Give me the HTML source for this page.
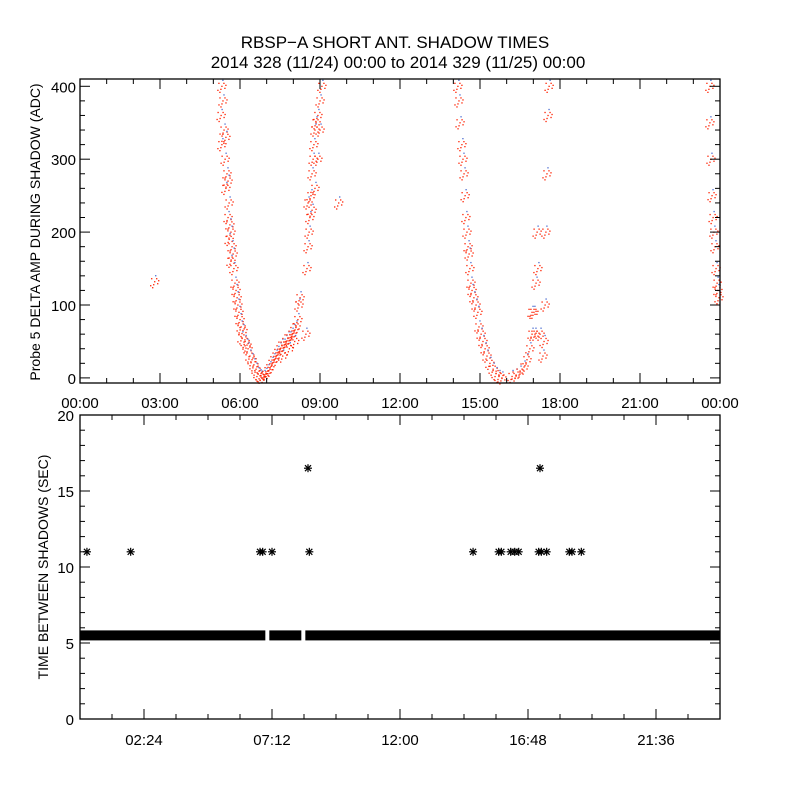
<!DOCTYPE html>
<html><head><meta charset="utf-8"><style>
html,body{margin:0;padding:0;background:#fff;}
svg{display:block;font-family:"Liberation Sans","DejaVu Sans",sans-serif;}
</style></head><body>
<svg id="c" width="800" height="800" viewBox="0 0 800 800">
<rect width="800" height="800" fill="#fff"/>
<text x="395" y="48" font-size="17" text-anchor="middle">RBSP−A SHORT ANT. SHADOW TIMES</text>
<text x="398" y="68" font-size="17" text-anchor="middle">2014 328 (11/24) 00:00 to 2014 329 (11/25) 00:00</text>
<text transform="translate(40,232) rotate(-90)" font-size="14" text-anchor="middle">Probe 5 DELTA AMP DURING SHADOW (ADC)</text>
<text transform="translate(48,567) rotate(-90)" font-size="14" text-anchor="middle">TIME BETWEEN SHADOWS (SEC)</text>
<g id="top"></g><g id="bot"></g>
</svg>
<script>
const NS="http://www.w3.org/2000/svg";
// ---- top panel data: [hour, ADC] ----
const ampHours=[5.32,5.36,5.29,5.40,5.32,5.47,5.44,5.51,5.47,5.55,5.59,5.55,5.62,5.66,5.59,5.70,5.74,5.66,5.77,5.81,5.85,5.89,5.92,5.96,6.00,6.04,6.11,6.07,6.19,6.26,6.30,6.37,6.45,6.52,6.60,6.67,6.75,6.79,
6.90,6.97,7.05,7.12,7.20,7.27,7.35,7.42,7.50,7.57,7.65,7.72,7.80,7.87,7.95,8.02,8.10,8.17,8.21,8.25,7.60,7.85,8.05,
8.47,8.51,8.55,8.59,8.62,8.66,8.70,8.74,8.77,8.81,8.85,8.92,9.00,9.07,8.55,8.70,8.81,8.92,9.00,9.70,2.80,
14.17,14.21,14.25,14.32,14.36,14.40,14.44,14.47,14.51,14.55,14.59,14.62,14.66,14.70,14.77,14.85,14.92,14.96,15.04,15.11,15.19,15.26,15.37,15.49,15.60,15.71,15.82,
16.20,16.35,16.50,16.65,16.76,16.87,16.95,17.02,17.10,17.14,17.17,17.25,17.36,17.40,17.44,17.47,17.51,17.55,17.59,16.95,17.06,
23.62,23.66,23.70,23.74,23.77,23.81,23.85,23.89,23.92,23.96,23.62];
const ampValues=[400,380,360,340,320,330,300,280,260,270,240,220,210,200,190,180,170,160,150,130,120,110,100,90,80,70,65,55,50,45,40,30,25,18,12,6,3,1,
2,5,10,14,20,25,30,35,40,45,45,50,55,55,60,65,70,80,100,110,30,40,50,
60,150,180,200,220,250,280,300,320,340,350,360,380,400,240,230,260,300,340,240,132,
400,380,350,320,300,280,250,220,200,180,170,150,130,120,110,100,90,70,60,50,40,30,20,12,6,2,0,
2,4,8,15,25,40,60,90,130,200,150,60,30,50,100,200,280,360,400,90,60,
350,300,250,220,200,180,150,130,120,110,400];
const topYTicks=[0,100,200,300,400];
const topXTickLabels=["00:00","03:00","06:00","09:00","12:00","15:00","18:00","21:00","00:00"];
// ---- bottom panel data ----
const bandSegments=[[0,6.95],[7.1,8.3],[8.45,24]];
const bandValue=5.5;
const outlierHours=[0.26,1.9,6.75,6.85,7.2,8.55,8.6,14.74,15.7,15.8,16.15,16.3,16.45,17.2,17.3,17.25,17.5,18.35,18.45,18.8];
const outlierValues=[11,11,11,11,11,16.5,11,11,11,11,11,11,11,11,11,16.5,11,11,11,11];
const botYTicks=[0,5,10,15,20];
const botXTickHours=[2.4,7.2,12,16.8,21.6];
const botXTickLabels=["02:24","07:12","12:00","16:48","21:36"];

function el(t,a,p){const e=document.createElementNS(NS,t);for(const k in a)e.setAttribute(k,a[k]);p.appendChild(e);return e;}
const L=80,R=720;
const tx=h=>L+(R-L)*h/24;
// top panel
const tT=79,tB=383,tMin=-7,tMax=410;
const ty=v=>tB-(v-tMin)/(tMax-tMin)*(tB-tT);
const gt=document.getElementById('top');
const jit=[[0,0],[3,2],[-3,-3],[4,-1],[-4,4],[1,-6],[-2,6],[2,-3],[-1,3]];
ampHours.forEach((h,i)=>{
  jit.forEach((j,k)=>{
    const r=el('rect',{x:tx(h)+j[0]-0.6,y:ty(ampValues[i])+j[1]-0.6,width:1.3,height:1.3,fill:k==5?'#4a6bd0':'#ff2000'},gt);
    
    
  });
});
let f=el('rect',{x:L,y:tT,width:R-L,height:tB-tT,fill:'none',stroke:'#000','stroke-width':1.3},gt);

for(let v=0;v<=400;v+=20){const y=ty(v);const len=v%100==0?10:5;el('line',{x1:L,x2:L+len,y1:y,y2:y,stroke:'#000'},gt);el('line',{x1:R,x2:R-len,y1:y,y2:y,stroke:'#000'},gt);}
topYTicks.forEach(v=>{const t=el('text',{x:L-4,y:ty(v)+6,'font-size':15,'text-anchor':'end'},gt);t.textContent=v;});
for(let h=0;h<=24;h+=1){const x=tx(h);const len=h%3==0?10:5;el('line',{x1:x,x2:x,y1:tB,y2:tB-len,stroke:'#000'},gt);el('line',{x1:x,x2:x,y1:tT,y2:tT+len,stroke:'#000'},gt);}
topXTickLabels.forEach((s,i)=>{const t=el('text',{x:tx(i*3),y:408,'font-size':15,'text-anchor':'middle'},gt);t.textContent=s;});
// bottom panel
const bT=415,bB=719,bMin=0,bMax=20;
const by=v=>bB-(v-bMin)/(bMax-bMin)*(bB-bT);
const gb=document.getElementById('bot');
bandSegments.forEach(s=>{const r=el('rect',{x:tx(s[0]),y:by(bandValue)-5,width:tx(s[1])-tx(s[0]),height:10,fill:'#000'},gb);});
outlierHours.forEach((h,i)=>{const x=tx(h),y=by(outlierValues[i]);const g=el('g',{stroke:'#000','stroke-width':1.2},gb);
  el('line',{x1:x-4,x2:x+4,y1:y,y2:y},g);el('line',{x1:x,x2:x,y1:y-4,y2:y+4},g);el('line',{x1:x-3,x2:x+3,y1:y-3,y2:y+3},g);el('line',{x1:x-3,x2:x+3,y1:y+3,y2:y-3},g);});
f=el('rect',{x:L,y:bT,width:R-L,height:bB-bT,fill:'none',stroke:'#000','stroke-width':1.3},gb);

for(let v=0;v<=20;v+=1){const y=by(v);const len=v%5==0?10:5;el('line',{x1:L,x2:L+len,y1:y,y2:y,stroke:'#000'},gb);el('line',{x1:R,x2:R-len,y1:y,y2:y,stroke:'#000'},gb);}
botYTicks.forEach(v=>{const t=el('text',{x:L-6,y:by(v)+6,'font-size':15,'text-anchor':'end'},gb);t.textContent=v;});
for(let k=0;k<=20;k++){const h=k*1.2,x=tx(h);const len=k%4==2?10:5;el('line',{x1:x,x2:x,y1:bB,y2:bB-len,stroke:'#000'},gb);el('line',{x1:x,x2:x,y1:bT,y2:bT+len,stroke:'#000'},gb);}
botXTickHours.forEach((h,i)=>{const t=el('text',{x:tx(h),y:745,'font-size':15,'text-anchor':'middle'},gb);t.textContent=botXTickLabels[i];});
</script>
</body></html>
